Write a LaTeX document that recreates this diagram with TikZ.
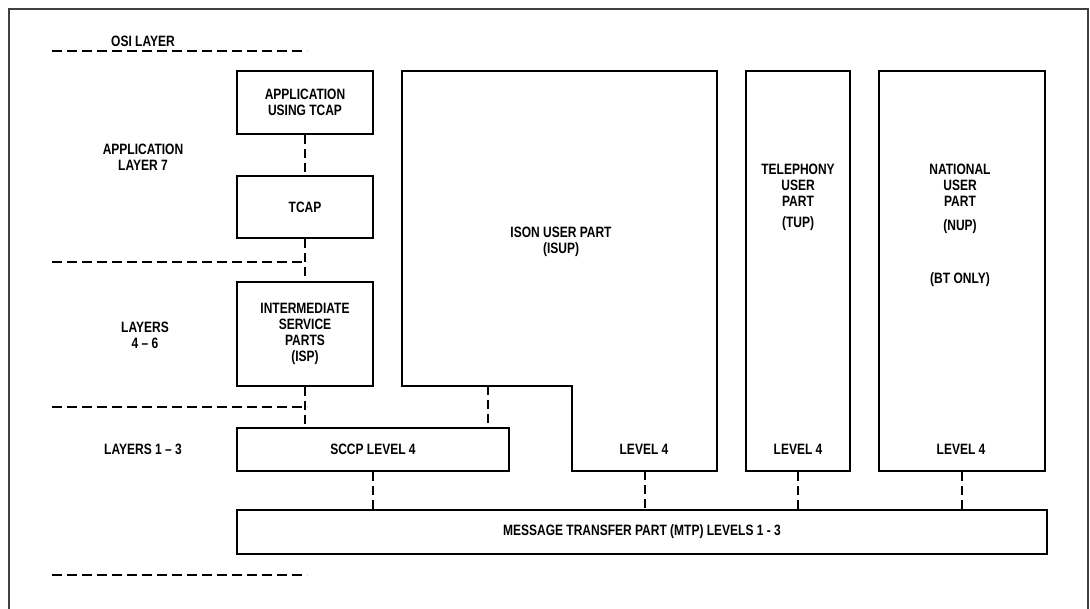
\documentclass[tikz,border=0pt]{standalone}
\usepackage{fontspec}
\setmainfont[FakeStretch=0.8]{Liberation Sans Bold}
\begin{document}
\begin{tikzpicture}[x=1pt,y=-1pt,
  box/.style={draw, line width=1.6pt, inner sep=0pt, align=center},
  lbl/.style={inner sep=0pt, align=center},
  conn/.style={line width=1.6pt, dash pattern=on 9pt off 5pt},
  layerline/.style={line width=1.6pt, dash pattern=on 10pt off 5pt},
  every node/.style={font=\fontsize{15}{16}\selectfont}]
\useasboundingbox (0,0) rectangle (1090,609);
% outer frame
\draw[line width=1.3pt, black!75] (9,612) -- (9,9) -- (1088,9) -- (1088,612);
% layer labels
\node[lbl] (osi) at (143,41) {OSI LAYER};
\node[lbl] (l7) at (143,157) {APPLICATION\\LAYER 7};
\node[lbl] (l46) at (145,335) {LAYERS\\4 -- 6};
\node[lbl] (l13) at (143,449) {LAYERS 1 -- 3};
% layer separators
\coordinate (d1a) at (52,51);  \coordinate (d1b) at (307,51);
\coordinate (d2a) at (52,262); \coordinate (d2b) at (307,262);
\coordinate (d3a) at (52,407); \coordinate (d3b) at (307,407);
\coordinate (d4a) at (52,575); \coordinate (d4b) at (307,575);
\draw[layerline] (d1a) -- (d1b);
\draw[layerline] (d2a) -- (d2b);
\draw[layerline] (d3a) -- (d3b);
\draw[layerline] (d4a) -- (d4b);
% left stack
\node[box, minimum width=136pt, minimum height=63pt] (app) at (305,102.5) {APPLICATION\\USING TCAP};
\node[box, minimum width=136pt, minimum height=62pt] (tcap) at (305,207) {TCAP};
\node[box, minimum width=136pt, minimum height=104pt] (isp) at (305,334) {INTERMEDIATE\\SERVICE\\PARTS\\(ISP)};
\node[box, minimum width=272pt, minimum height=43pt] (sccp) at (373,449.5) {SCCP LEVEL 4};
\node[box, minimum width=810pt, minimum height=44pt] (mtp) at (642,532) {MESSAGE TRANSFER PART (MTP) LEVELS 1 - 3};
% ISUP
\draw[line width=1.6pt] (402,71) -- (717,71) -- (717,471) -- (572,471) -- (572,386) -- (402,386) -- cycle;
\node[lbl] (isuptxt) at (561,242) {ISON USER PART\\(ISUP)};
\node[lbl] (isuplvl) at (644,449) {LEVEL 4};
\coordinate (isupS) at (488,386);
\coordinate (isupL) at (645,471);
% TUP and NUP
\node[box, minimum width=104pt, minimum height=400pt] (tup) at (798,271) {};
\node[lbl] (tuptxt) at (798,197) {TELEPHONY\\USER\\PART\\[5pt](TUP)};
\node[lbl] (tuplvl) at (798,449) {LEVEL 4};
\node[box, minimum width=166pt, minimum height=400pt] (nup) at (962,271) {};
\node[lbl] (nuptxt) at (960,225) {NATIONAL\\USER\\PART\\[8pt](NUP)\\[37pt](BT ONLY)};
\node[lbl] (nuplvl) at (961,449) {LEVEL 4};
% connectors
\draw[conn] (app.south) -- (tcap.north);
\draw[conn] (tcap.south) -- (isp.north);
\draw[conn] (isp.south) -- (isp.south |- sccp.north);
\draw[conn] (isupS) -- (isupS |- sccp.north);
\draw[conn] (sccp.south) -- (sccp.south |- mtp.north);
\draw[conn] (isupL) -- (isupL |- mtp.north);
\draw[conn] (tup.south) -- (tup.south |- mtp.north);
\draw[conn] (nup.south) -- (nup.south |- mtp.north);
\end{tikzpicture}
\end{document}
